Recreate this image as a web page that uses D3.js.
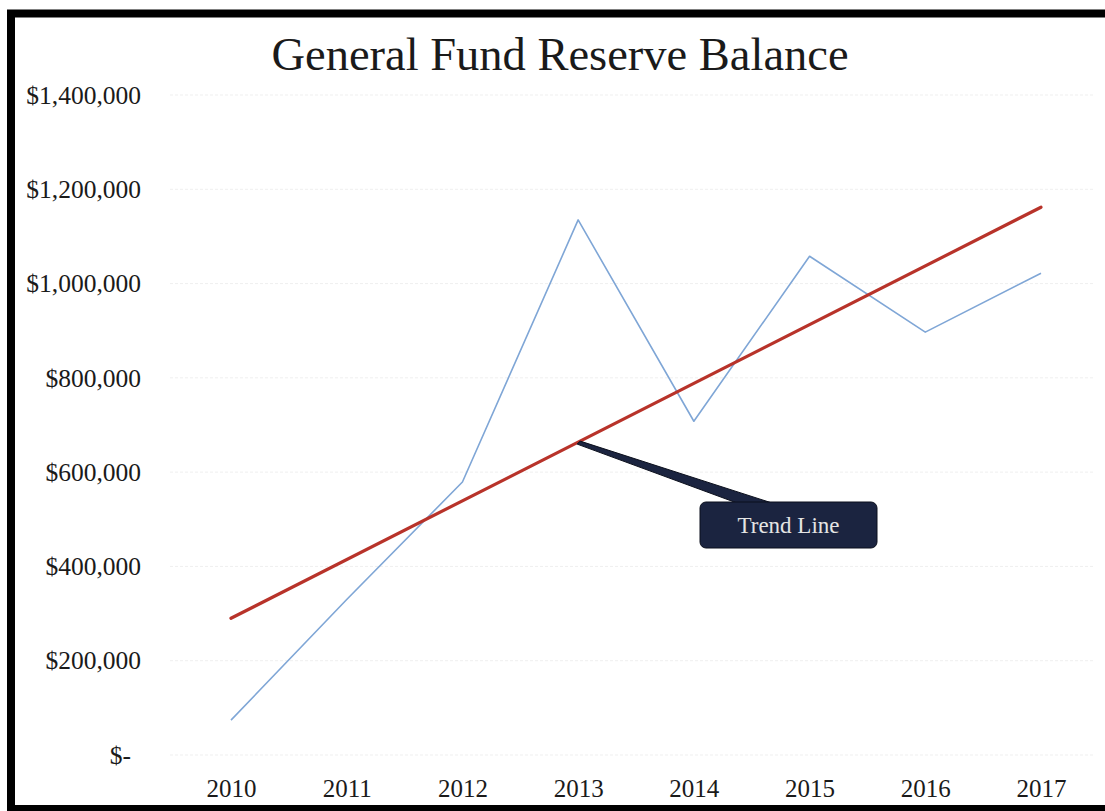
<!DOCTYPE html>
<html>
<head>
<meta charset="utf-8">
<script src="https://cdn.jsdelivr.net/npm/d3@7/dist/d3.min.js"></script>
<style>
  html, body { margin: 0; padding: 0; background: #fff; }
  svg { display: block; }
</style>
</head>
<body>
<svg id="chart" width="1105" height="811"></svg>
<script>
// ---- data ----
const years = [2010, 2011, 2012, 2013, 2014, 2015, 2016, 2017];
const reserveBalance = [74000, 330000, 579000, 1135000, 708000, 1058000, 897000, 1022000];
const trendYears = [2010, 2017];
const trendValues = [290000, 1162000];
const yTickValues = [0, 200000, 400000, 600000, 800000, 1000000, 1200000, 1400000];
const titleText = "General Fund Reserve Balance";
const calloutText = "Trend Line";
const calloutYear = 2013;

// ---- layout ----
const svg = d3.select("#chart");
const W = 1105, H = 811;
const serif = "'Liberation Serif', 'DejaVu Serif', serif";

const x = d3.scaleLinear().domain([2010, 2017]).range([231, 1041]);
const y = d3.scaleLinear().domain([0, 1400000]).range([755, 95]);
const trend = d3.scaleLinear().domain(trendYears).range(trendValues);

svg.append("rect").attr("width", W).attr("height", H).attr("fill", "#fff");

// frame
svg.append("rect")
  .attr("x", 11).attr("y", 13.5)
  .attr("width", 1300).attr("height", 795.5)
  .attr("fill", "#fff")
  .attr("stroke", "#000").attr("stroke-width", 8);

// title
svg.append("text")
  .attr("x", 560).attr("y", 70)
  .attr("text-anchor", "middle")
  .attr("font-family", serif)
  .attr("font-size", 46.5)
  .attr("fill", "#1a1a1a")
  .text(titleText);

// gridlines
svg.append("g").selectAll("line")
  .data(yTickValues)
  .join("line")
  .attr("x1", 170).attr("x2", 1095)
  .attr("y1", d => y(d)).attr("y2", d => y(d))
  .attr("stroke", "#efefef").attr("stroke-width", 1)
  .attr("stroke-dasharray", "3,2");

// y axis labels
const fmt = d3.format(",");
const yAxis = d3.axisLeft(y)
  .tickValues(yTickValues)
  .tickSize(0).tickPadding(0)
  .tickFormat(d => d === 0 ? "$-" : "$" + fmt(d));
const gy = svg.append("g").attr("transform", "translate(141,0)").call(yAxis);
gy.select(".domain").remove();
gy.selectAll("text")
  .attr("font-family", serif).attr("font-size", 25.5).attr("fill", "#1a1a1a")
  .attr("dx", d => d === 0 ? -10 : 0);

// x axis labels
const xAxis = d3.axisBottom(x)
  .tickValues(years)
  .tickSize(0).tickPadding(24)
  .tickFormat(d3.format("d"));
const gx = svg.append("g").attr("transform", "translate(0,755)").call(xAxis);
gx.select(".domain").remove();
gx.selectAll("text")
  .attr("font-family", serif).attr("font-size", 25).attr("fill", "#1a1a1a");

// data line
const line = d3.line().x((d, i) => x(years[i])).y(d => y(d));
svg.append("path")
  .datum(reserveBalance)
  .attr("d", line)
  .attr("fill", "none")
  .attr("stroke", "#7fa6d6")
  .attr("stroke-width", 1.6)
  .attr("stroke-linejoin", "round");

// trend line
const tline = d3.line().x((d, i) => x(trendYears[i])).y(d => y(d));
svg.append("path")
  .datum(trendValues)
  .attr("d", tline)
  .attr("fill", "none")
  .attr("stroke", "#b8332a")
  .attr("stroke-width", 3.2)
  .attr("stroke-linecap", "round");

// callout
const tipX = x(calloutYear), tipY = y(trend(calloutYear));
const box = { x: 700, y: 502, w: 177, h: 46 };
svg.append("path")
  .attr("d", `M${tipX + 2},${tipY - 1} L${box.x + 72},${box.y + 1} L${box.x + 37},${box.y + 1} L${tipX - 1},${tipY + 2} Z`)
  .attr("fill", "#1b2440")
  .attr("stroke", "#0b0f1c").attr("stroke-width", 1);
svg.append("rect")
  .attr("x", box.x).attr("y", box.y)
  .attr("width", box.w).attr("height", box.h)
  .attr("rx", 6)
  .attr("fill", "#1b2440")
  .attr("stroke", "#0b0f1c").attr("stroke-width", 1);
svg.append("text")
  .attr("x", box.x + box.w / 2).attr("y", box.y + 31)
  .attr("text-anchor", "middle")
  .attr("font-family", serif)
  .attr("font-size", 23)
  .attr("fill", "#e4e4e4")
  .text(calloutText);
</script>
</body>
</html>
